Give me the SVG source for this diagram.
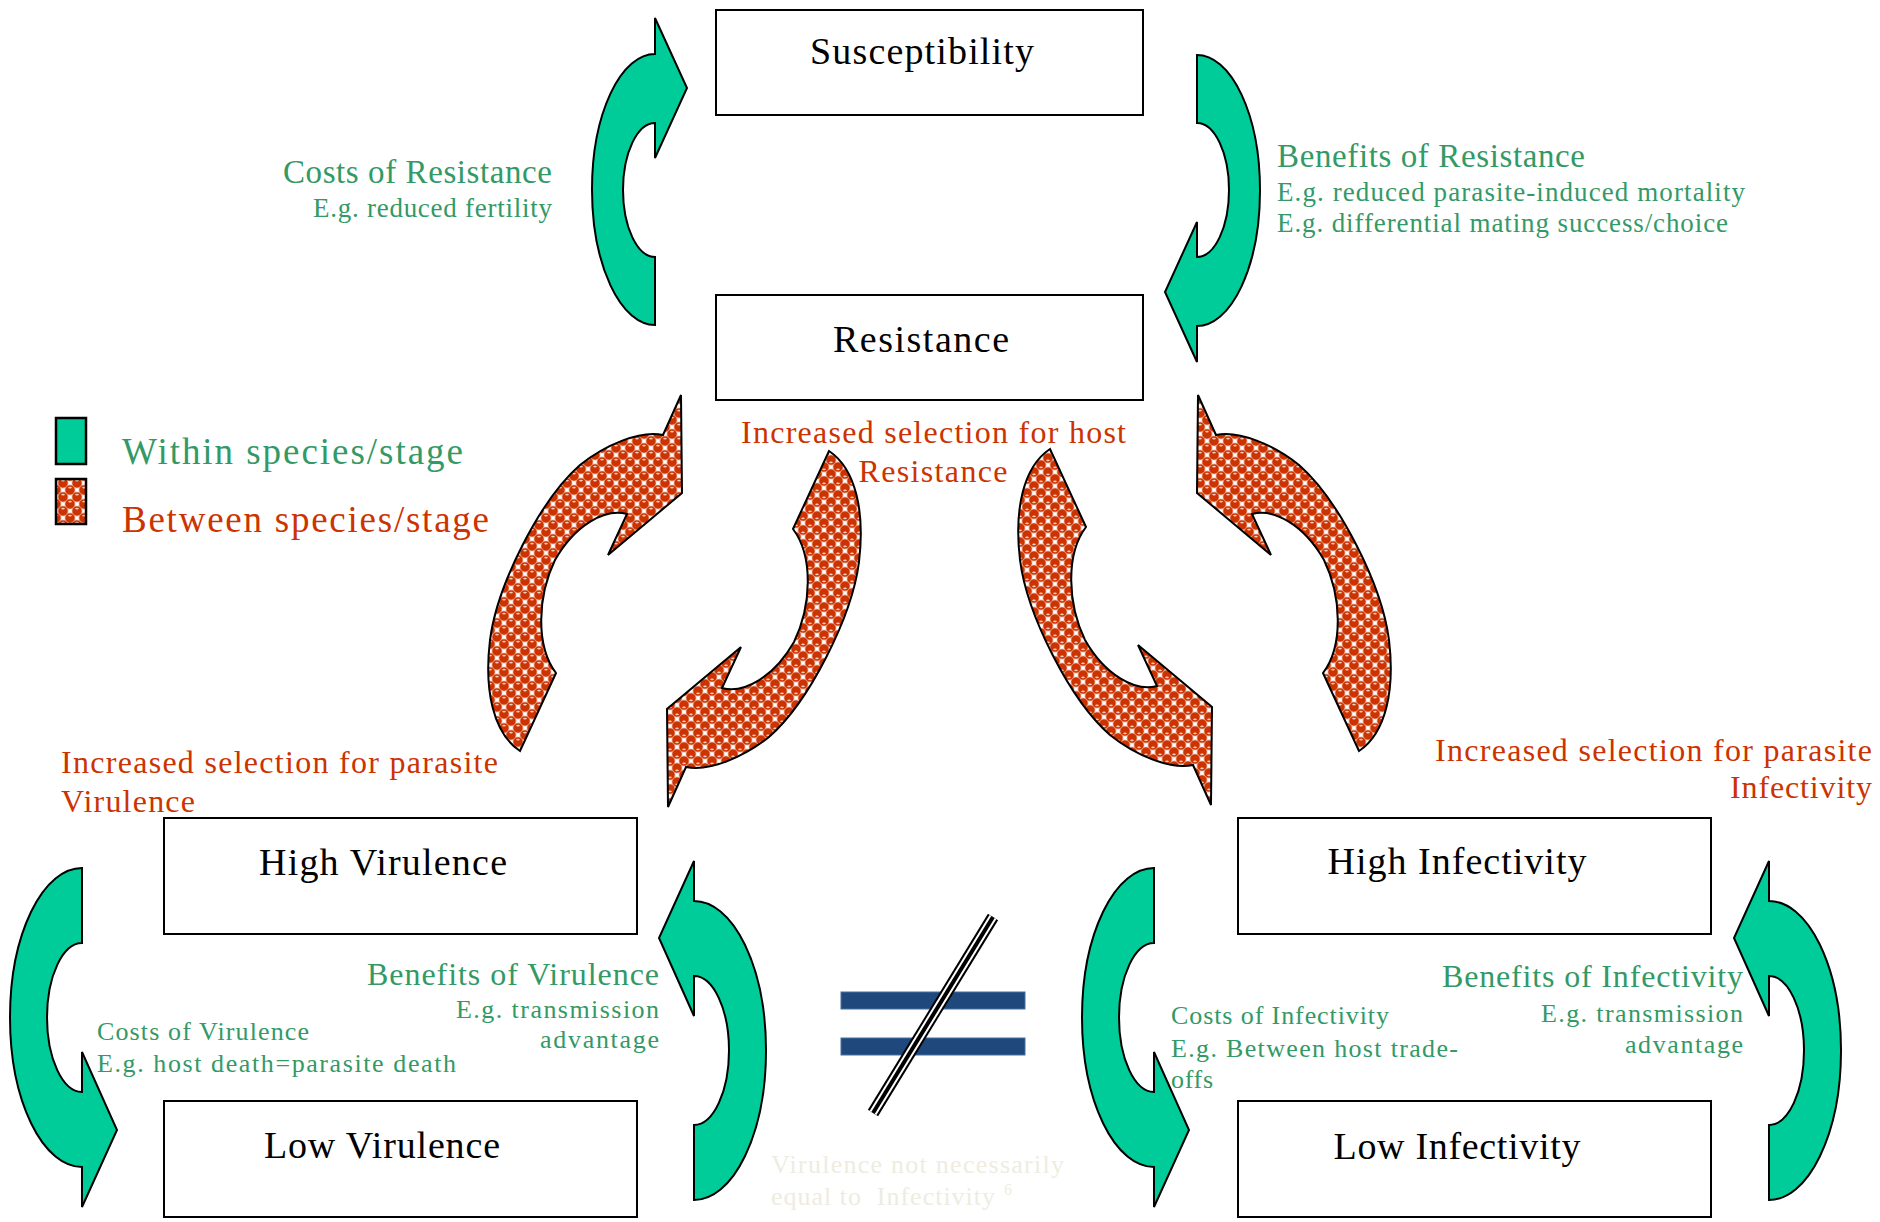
<svg xmlns="http://www.w3.org/2000/svg" xmlns:xlink="http://www.w3.org/1999/xlink" width="1880" height="1222" viewBox="0 0 1880 1222">
<style>
.box{fill:#fff;stroke:#000;stroke-width:2}
.lbl{font-family:"Liberation Serif","Times New Roman",serif;font-size:38px;fill:#000;text-anchor:middle}
.t{font-family:"Liberation Serif","Times New Roman",serif}
.gr{fill:#339966}
.rd{fill:#CC3300}
.lt{fill:#EEECE1}
.h1{font-size:33px}
.h2{font-size:27px}
.h3{font-size:32px}
.h4{font-size:26px}
.end{text-anchor:end}
.mid{text-anchor:middle}
.green{fill:#00CC99;stroke:#000;stroke-width:2;stroke-linejoin:miter}
.red{fill:url(#balls);stroke:#000;stroke-width:2}
</style>
<defs>
<pattern id="balls" width="14" height="14" patternUnits="userSpaceOnUse">
<rect width="14" height="14" fill="#fff"/>
<g fill="#CC3300" stroke="#E39A80" stroke-width="0.7">
<circle cx="0" cy="0" r="5"/><circle cx="14" cy="0" r="5"/><circle cx="0" cy="14" r="5"/><circle cx="14" cy="14" r="5"/><circle cx="7" cy="7" r="5"/>
</g>
<g fill="#fff" opacity="0.75">
<ellipse cx="7" cy="4.6" rx="1.8" ry="0.9"/><ellipse cx="0" cy="11.6" rx="1.8" ry="0.9"/><ellipse cx="14" cy="11.6" rx="1.8" ry="0.9"/>
</g>
</pattern>
<path id="redArrow" d="M520,751 C493,733 484,690 490,640 C497,585 540,500 580,465 C605,445 640,430 663,435 L681,395 L682,493 L608,555 L627,514 C605,508 575,525 555,560 C538,595 535,645 556,673 Z"/>
<path id="greenA" d="M655,325 A63,135.5 0 0 1 655,54 L655,18 L687,88 L655,158 L655,123 A32,67 0 0 0 655,257 Z"/>
<path id="greenC" d="M82,868 A72,149.5 0 0 0 82,1167 L82,1207 L117,1130 L82,1052 L82,1092 A35,74.5 0 0 1 82,943 Z"/>
</defs>
<rect width="1880" height="1222" fill="#fff"/>

<g id="connectors">
<use xlink:href="#greenA" class="green"/>
<use xlink:href="#greenA" class="green" transform="rotate(180 926 190)"/>
<use xlink:href="#greenC" class="green"/>
<use xlink:href="#greenC" class="green" transform="rotate(180 388 1034)"/>
<use xlink:href="#greenC" class="green" transform="translate(1072 0)"/>
<use xlink:href="#greenC" class="green" transform="translate(1075 0) rotate(180 388 1034)"/>
<use xlink:href="#redArrow" class="red"/>
<use xlink:href="#redArrow" class="red" transform="rotate(180 674.5 601)"/>
<use xlink:href="#redArrow" class="red" transform="translate(530 1200) scale(1 -1)"/>
<use xlink:href="#redArrow" class="red" transform="translate(1879 0) scale(-1 1)"/>
</g>

<g id="susceptibility"><rect class="box" x="716" y="10" width="427" height="105"/><text class="lbl" x="922" y="64" textLength="224">Susceptibility</text></g>
<g id="resistance"><rect class="box" x="716" y="295" width="427" height="105"/><text class="lbl" x="921" y="352" textLength="176">Resistance</text></g>
<g id="high-virulence"><rect class="box" x="164" y="818" width="473" height="116"/><text class="lbl" x="383" y="875" textLength="248">High Virulence</text></g>
<g id="low-virulence"><rect class="box" x="164" y="1101" width="473" height="116"/><text class="lbl" x="382" y="1158" textLength="236">Low Virulence</text></g>
<g id="high-infectivity"><rect class="box" x="1238" y="818" width="473" height="116"/><text class="lbl" x="1457" y="874" textLength="259">High Infectivity</text></g>
<g id="low-infectivity"><rect class="box" x="1238" y="1101" width="473" height="116"/><text class="lbl" x="1457" y="1159" textLength="247">Low Infectivity</text></g>

<g id="legend">
<rect x="56" y="418" width="30" height="46" fill="#00CC99" stroke="#000" stroke-width="2.5"/>
<rect x="56" y="479" width="30" height="45" fill="url(#balls)" stroke="#000" stroke-width="2.5"/>
<text class="t gr" x="122" y="464" font-size="37" textLength="341">Within species/stage</text>
<text class="t rd" x="122" y="532" font-size="37" textLength="367">Between species/stage</text>
</g>

<g id="not-equal">
<rect x="841" y="992" width="184" height="17" fill="#1F497D" stroke="#4A6E9E" stroke-width="1"/>
<rect x="841" y="1038" width="184" height="17" fill="#1F497D" stroke="#4A6E9E" stroke-width="1"/>
<line x1="993" y1="917" x2="873" y2="1113" stroke="#000" stroke-width="12"/>
<line x1="993" y1="917" x2="873" y2="1113" stroke="#fff" stroke-width="8"/>
<line x1="993" y1="917" x2="873" y2="1113" stroke="#000" stroke-width="4"/>
</g>

<g id="labels">
<text class="t gr h1 end" x="552" y="183" textLength="269">Costs of Resistance</text>
<text class="t gr h2 end" x="552" y="217" textLength="239">E.g. reduced fertility</text>
<text class="t gr h1" x="1277" y="167" textLength="308">Benefits of Resistance</text>
<text class="t gr h2" x="1277" y="201" textLength="468">E.g. reduced parasite-induced mortality</text>
<text class="t gr h2" x="1277" y="232" textLength="451">E.g. differential mating success/choice</text>

<text class="t rd h3" x="61" y="773" textLength="437">Increased selection for parasite</text>
<text class="t rd h3" x="61" y="812" textLength="134">Virulence</text>
<text class="t rd h3 mid" x="933.5" y="443" textLength="385">Increased selection for host</text>
<text class="t rd h3 mid" x="933" y="482" textLength="149">Resistance</text>
<text class="t rd h3 end" x="1872" y="761" textLength="437">Increased selection for parasite</text>
<text class="t rd h3 end" x="1872" y="798" textLength="142">Infectivity</text>

<text class="t gr h4" x="97" y="1040" textLength="212">Costs of Virulence</text>
<text class="t gr h4" x="97" y="1072" textLength="359">E.g. host death=parasite death</text>
<text class="t gr h3 end" x="659" y="985" textLength="292">Benefits of Virulence</text>
<text class="t gr h4 end" x="659" y="1018" textLength="203">E.g. transmission</text>
<text class="t gr h4 end" x="659" y="1048" textLength="119">advantage</text>

<text class="t gr h4" x="1171" y="1024" textLength="218">Costs of Infectivity</text>
<text class="t gr h4" x="1171" y="1057" textLength="287">E.g. Between host trade-</text>
<text class="t gr h4" x="1171" y="1088" textLength="42">offs</text>
<text class="t gr h3 end" x="1743" y="987" textLength="301">Benefits of Infectivity</text>
<text class="t gr h4 end" x="1743" y="1022" textLength="202">E.g. transmission</text>
<text class="t gr h4 end" x="1743" y="1053" textLength="118">advantage</text>

<text class="t lt h4" x="771" y="1173" textLength="293">Virulence not necessarily</text>
<text class="t lt h4" x="771" y="1205" style="white-space:pre"><tspan textLength="224">equal to  Infectivity</tspan><tspan dx="8" dy="-10" font-size="16">6</tspan></text>
</g>
</svg>
